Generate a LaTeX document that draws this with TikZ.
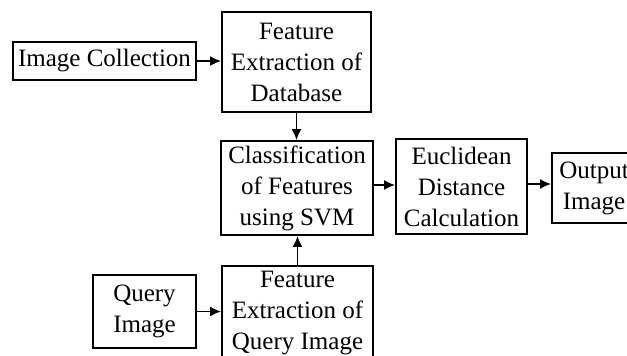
\documentclass[tikz,border=0pt]{standalone}
\usepackage{fontspec}
\setmainfont{Liberation Serif}
\usetikzlibrary{arrows.meta}

\tikzset{
    blk/.style={draw, line width=1.8pt, align=center, inner sep=0pt,
        font=\fontsize{25}{31}\selectfont},
    link/.style={line width=1.8pt, ->}
}

\begin{document}
\begin{tikzpicture}[>={Latex[length=11pt,width=10pt]}, x=1pt, y=-1pt]
            \useasboundingbox (0, 0) rectangle (627, 356);
            \clip (0, 0) rectangle (627, 356);
            % upper row
            \node[blk, minimum width=183pt, minimum height=38pt] (coll) at (104.5, 61) {Image Collection};
            \node[blk, minimum width=149pt, minimum height=100pt] (featdb) at (296.5, 62) {Feature\\Extraction of\\Database};
            % middle row
            \node[blk, minimum width=152pt, minimum height=94pt] (svm) at (297, 188) {Classification\\of Features\\using SVM};
            \node[blk, minimum width=131pt, minimum height=95pt] (dist) at (461.5, 186.5) {Euclidean\\Distance\\Calculation};
            \node[blk, minimum width=84pt, minimum height=70pt] (out) at (594, 188) {Output\\Image};
            % lower row
            \node[blk, minimum width=103pt, minimum height=73pt] (query) at (144.5, 311.5) {Query\\Image};
            \node[blk, minimum width=151pt, minimum height=94pt] (featq) at (297.5, 313) {Feature\\Extraction of\\Query Image};
            % arrows
            \draw[link] (coll.east) -- (coll.east -| featdb.west);
            \draw[link] (featdb.south) -- (featdb.south |- svm.north);
            \draw[link] (featq.north) -- (featq.north |- svm.south);
            \draw[link] (query.east) -- (query.east -| featq.west);
            \draw[link] ([yshift=3pt]svm.east) -- ([yshift=3pt]svm.east -| dist.west);
            \draw[link] ([yshift=2.5pt]dist.east) -- ([yshift=2.5pt]dist.east -| out.west);
        \end{tikzpicture}
\end{document}
